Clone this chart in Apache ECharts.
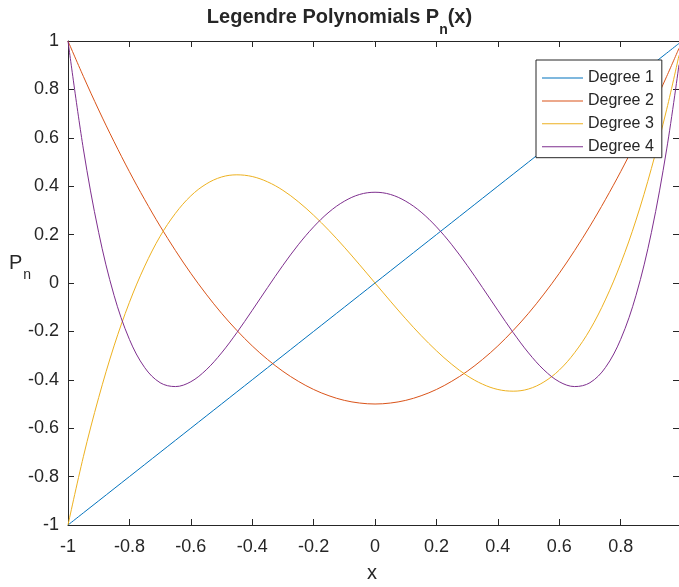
<!DOCTYPE html>
<html>
<head>
<meta charset="utf-8">
<script src="https://cdn.jsdelivr.net/npm/echarts@6/dist/echarts.min.js"></script>
<style>
  html, body { margin: 0; padding: 0; background: #fff; }
  #chart { width: 679px; height: 587px; }
</style>
</head>
<body>
<div id="chart"></div>
<script>
// Sample positions along x
const xs = [-1, -0.95, -0.9, -0.85, -0.8, -0.75, -0.7, -0.65, -0.6, -0.55, -0.5, -0.45, -0.4, -0.35, -0.3, -0.25, -0.2, -0.15, -0.1, -0.05,
  0, 0.05, 0.1, 0.15, 0.2, 0.25, 0.3, 0.35, 0.4, 0.45, 0.5, 0.55, 0.6, 0.65, 0.7, 0.75, 0.8, 0.85, 0.9, 0.95, 0.99];

// P_n values at each sample
const degree1 = [-1, -0.95, -0.9, -0.85, -0.8, -0.75, -0.7, -0.65, -0.6, -0.55, -0.5, -0.45, -0.4, -0.35, -0.3, -0.25, -0.2, -0.15, -0.1, -0.05,
  0, 0.05, 0.1, 0.15, 0.2, 0.25, 0.3, 0.35, 0.4, 0.45, 0.5, 0.55, 0.6, 0.65, 0.7, 0.75, 0.8, 0.85, 0.9, 0.95, 0.99];
const degree2 = [1, 0.854, 0.715, 0.584, 0.46, 0.344, 0.235, 0.134, 0.04, -0.046, -0.125, -0.196, -0.26, -0.316, -0.365, -0.406, -0.44, -0.466, -0.485, -0.496,
  -0.5, -0.496, -0.485, -0.466, -0.44, -0.406, -0.365, -0.316, -0.26, -0.196, -0.125, -0.046, 0.04, 0.134, 0.235, 0.344, 0.46, 0.584, 0.715, 0.854, 0.970];
const degree3 = [-1, -0.718, -0.473, -0.26, -0.08, 0.07, 0.193, 0.288, 0.36, 0.409, 0.438, 0.447, 0.44, 0.418, 0.383, 0.336, 0.28, 0.217, 0.148, 0.075,
  0, -0.075, -0.148, -0.217, -0.28, -0.336, -0.383, -0.418, -0.44, -0.447, -0.438, -0.409, -0.36, -0.288, -0.193, -0.07, 0.08, 0.26, 0.473, 0.718, 0.941];
const degree4 = [1, 0.554, 0.208, -0.051, -0.233, -0.35, -0.412, -0.428, -0.408, -0.359, -0.289, -0.205, -0.113, -0.019, 0.073, 0.158, 0.232, 0.293, 0.338, 0.366,
  0.375, 0.366, 0.338, 0.293, 0.232, 0.158, 0.073, -0.019, -0.113, -0.205, -0.289, -0.359, -0.408, -0.428, -0.412, -0.35, -0.233, -0.051, 0.208, 0.554, 0.902];

const seriesNames = ['Degree 1', 'Degree 2', 'Degree 3', 'Degree 4'];
const seriesValues = [degree1, degree2, degree3, degree4];
const colors = ['#0072BD', '#D95319', '#EDB120', '#7E2F8E'];

const FONT = '"Liberation Sans", Arial, Helvetica, sans-serif';
const INK = '#262626';

const chart = echarts.init(document.getElementById('chart'), null, { renderer: 'canvas' });

const tickStyle = { show: true, inside: true, length: 6, lineStyle: { color: INK, width: 1 } };
const lineStyleAxis = { show: true, onZero: false, lineStyle: { color: INK, width: 1 } };

chart.setOption({
  animation: false,
  backgroundColor: '#fff',
  color: colors,
  textStyle: { fontFamily: FONT },
  grid: { left: 68, right: 0, top: 41, bottom: 62, containLabel: false },
  xAxis: [{
    type: 'value', min: -1, max: 0.99, interval: 0.2, position: 'bottom',
    axisLine: lineStyleAxis, axisTick: tickStyle, splitLine: { show: false },
    axisLabel: { color: INK, fontSize: 18, margin: 13, showMaxLabel: false, fontFamily: FONT }
  }, {
    type: 'value', min: -1, max: 0.99, interval: 0.2, position: 'top',
    axisLine: lineStyleAxis, axisTick: tickStyle, splitLine: { show: false },
    axisLabel: { show: false }
  }],
  yAxis: [{
    type: 'value', min: -1, max: 1, interval: 0.2, position: 'left',
    axisLine: lineStyleAxis, axisTick: tickStyle, splitLine: { show: false },
    axisLabel: { color: INK, fontSize: 18, margin: 9, fontFamily: FONT }
  }, {
    type: 'value', min: -1, max: 1, interval: 0.2, position: 'right',
    axisLine: lineStyleAxis, axisTick: tickStyle, splitLine: { show: false },
    axisLabel: { show: false }
  }],
  legend: {
    orient: 'vertical', left: 536, top: 60,
    padding: [10, 8, 3, 6], itemGap: 6.9, itemWidth: 41, itemHeight: 1,
    icon: 'rect',
    backgroundColor: '#fff', borderColor: INK, borderWidth: 1, borderRadius: 0,
    textStyle: { fontSize: 16, color: INK, fontFamily: FONT, lineHeight: 14 },
    data: seriesNames
  },
  graphic: [{
    type: 'text', left: 'center', top: 7,
    style: {
      text: '{t|Legendre Polynomials P}{s|n}{t|(x)}',
      rich: {
        t: { fontSize: 20, fontWeight: 'bold', fill: INK, fontFamily: FONT, verticalAlign: 'top', lineHeight: 24 },
        s: { fontSize: 14, fontWeight: 'bold', fill: INK, fontFamily: FONT, verticalAlign: 'top', lineHeight: 14, padding: [16, 0, 0, 0] }
      }
    },
    x: 8
  }, {
    type: 'text', left: 9, top: 253,
    style: {
      text: '{p|P}{s|n}',
      rich: {
        p: { fontSize: 20, fill: INK, fontFamily: FONT, verticalAlign: 'top', lineHeight: 22 },
        s: { fontSize: 14, fill: INK, fontFamily: FONT, verticalAlign: 'top', lineHeight: 14, padding: [15, 0, 0, 1] }
      }
    }
  }, {
    type: 'text', left: 367, top: 563,
    style: { text: 'x', fontSize: 20, fill: INK, fontFamily: FONT }
  }],
  series: seriesNames.map((name, i) => ({
    name: name,
    type: 'line',
    data: xs.map((x, k) => [x, seriesValues[i][k]]),
    smooth: 0.35,
    symbol: 'none',
    lineStyle: { width: 1, color: colors[i] },
    itemStyle: { color: colors[i] }
  }))
});
</script>
</body>
</html>
